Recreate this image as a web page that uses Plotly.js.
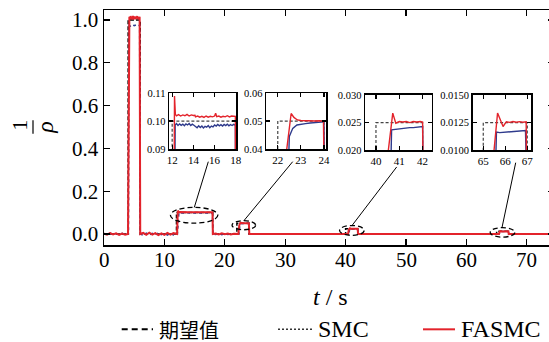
<!DOCTYPE html>
<html>
<head>
<meta charset="utf-8">
<script src="https://cdn.plot.ly/plotly-3.0.1.min.js"></script>
<style>html,body{margin:0;padding:0;overflow:hidden;background:#fff;}</style>
</head>
<body>
<div id="chart" style="width:554px;height:342px;"></div>
<script>
// ---------- data ----------
const seriesNames = ["期望值", "SMC", "FASMC"];

// desired value (期望值)
const tRef = [0, 4, 4, 6, 6, 12, 12, 18, 18, 22, 22, 24, 24, 40, 40, 42, 42, 65, 65, 67, 67, 75];
const yRef = [0, 0, 1, 1, 0, 0, 0.1, 0.1, 0, 0, 0.05, 0.05, 0, 0, 0.025, 0.025, 0, 0, 0.0125, 0.0125, 0, 0];

// SMC
const tSMC = [0, 0.5, 1.0, 1.5, 2.0, 2.5, 3.0, 3.5, 4.05,
  4.15, 4.4, 4.7, 5.0, 5.3, 5.6, 5.9, 5.98,
  6.5, 7.0, 7.5, 8.0, 8.5, 9.0, 9.5, 10.0, 10.5, 11.0, 11.5, 12.15,
  12.28, 12.4, 12.55, 12.7, 12.85, 13.0, 13.15, 13.3, 13.45, 13.6, 13.75, 13.9, 14.05, 14.2, 14.35, 14.5, 14.65, 14.8, 14.95, 15.1,
  15.25, 15.4, 15.55, 15.7, 15.85, 16.0, 16.15, 16.3, 16.45, 16.6, 16.75, 16.9, 17.05, 17.2, 17.35, 17.5, 17.65, 17.8, 17.96, 18.03,
  18.5, 19.0, 19.5, 20.0, 20.5, 21.0, 21.5, 22.35,
  22.5, 22.65, 22.83, 23.0, 23.2, 23.4, 23.6, 23.8, 24.0, 24.07,
  40.55, 40.67, 40.85, 41.0, 41.15, 41.3, 41.45, 41.6, 41.75, 41.9, 42.0, 42.06,
  65.45, 65.6, 65.75, 65.9, 66.05, 66.2, 66.35, 66.5, 66.65, 66.8, 66.92, 67.05, 75];
const ySMC = [0.003, -0.002, 0.004, -0.003, 0.002, -0.004, 0.003, -0.002, 0.0,
  0.975, 0.971, 0.978, 0.973, 0.977, 0.972, 0.976, 0.0,
  -0.006, 0.004, -0.005, 0.003, -0.004, 0.005, -0.003, 0.004, -0.005, 0.003, -0.004, 0.0,
  0.0986, 0.0991, 0.0984, 0.0990, 0.0985, 0.0989, 0.0983, 0.0990, 0.0986, 0.0991, 0.0984, 0.0989, 0.0985, 0.0980, 0.0976, 0.0983, 0.0977, 0.0982, 0.0975, 0.0981,
  0.0978, 0.0984, 0.0976, 0.0982, 0.0979, 0.0986, 0.0982, 0.0988, 0.0983, 0.0987, 0.0982, 0.0988, 0.0984, 0.0989, 0.0983, 0.0987, 0.0984, 0.0988, 0.0985, 0.0,
  -0.002, 0.002, -0.003, 0.001, -0.002, 0.002, -0.001, 0.0,
  0.0445, 0.0474, 0.0486, 0.0489, 0.0491, 0.0493, 0.0494, 0.0496, 0.0497, 0.0,
  0.0, 0.0237, 0.0238, 0.0239, 0.0239, 0.0240, 0.0241, 0.0241, 0.0242, 0.0242, 0.0243, 0.0,
  0.0, 0.01165, 0.01160, 0.01163, 0.01166, 0.01168, 0.01170, 0.01172, 0.01175, 0.01176, 0.01178, 0.0, 0.0];

// FASMC
const tFASMC = [0, 0.5, 1.0, 1.5, 2.0, 2.5, 3.0, 3.5, 3.98,
  4.08, 4.2, 4.3, 4.4, 4.5, 4.6, 4.7, 4.8, 4.9, 5.0, 5.1, 5.2, 5.3, 5.4, 5.5, 5.6, 5.7, 5.8, 5.9,
  5.93, 5.97, 6.0,
  6.5, 7.0, 7.5, 8.0, 8.5, 9.0, 9.5, 10.0, 10.5, 11.0, 11.5, 12.1,
  12.22, 12.3, 12.4, 12.6, 12.8, 13.0, 13.2, 13.4, 13.6, 13.8, 14.0, 14.15, 14.2, 14.4, 14.6, 14.8, 15.0, 15.2, 15.4,
  15.6, 15.8, 16.0, 16.1, 16.2, 16.4, 16.6, 16.8, 17.0, 17.2, 17.4, 17.6, 17.8, 17.96, 18.02,
  18.5, 19.0, 19.5, 20.0, 20.5, 21.0, 21.5, 22.25,
  22.39, 22.58, 22.7, 22.85, 23.0, 23.2, 23.4, 23.6, 23.8, 23.98, 24.06,
  40.4, 40.53, 40.72, 40.85, 41.0, 41.15, 41.3, 41.45, 41.6, 41.75, 41.9, 42.0, 42.06,
  65.38, 65.49, 65.65, 65.9, 66.05, 66.2, 66.35, 66.5, 66.65, 66.8, 66.95, 67.01, 75];
const yFASMC = [0.002, -0.003, 0.004, -0.002, 0.003, -0.004, 0.002, -0.003, 0.0,
  1.008, 1.015, 1.004, 1.018, 1.007, 1.013, 1.002, 1.019, 1.009, 1.005, 1.016, 1.003, 1.014, 1.008, 1.018, 1.004, 1.012, 1.006, 1.015,
  0.62, 0.60, 0.0,
  0.005, -0.004, 0.006, -0.003, 0.004, -0.005, 0.003, -0.004, 0.005, -0.003, 0.004, 0.0,
  0.109, 0.1024, 0.1019, 0.1023, 0.1018, 0.1022, 0.1019, 0.1024, 0.1018, 0.1022, 0.1020, 0.1021, 0.1015, 0.1018, 0.1014, 0.1017, 0.1013, 0.1018, 0.1014,
  0.1017, 0.1015, 0.1018, 0.1028, 0.1016, 0.1018, 0.1014, 0.1017, 0.1015, 0.1019, 0.1015, 0.1018, 0.1016, 0.1017, 0.0,
  0.002, -0.002, 0.003, -0.001, 0.002, -0.002, 0.001, 0.0,
  0.04, 0.0527, 0.0513, 0.0504, 0.0502, 0.0501, 0.0502, 0.0500, 0.0501, 0.0500, 0.0,
  0.0, 0.02, 0.0267, 0.0249, 0.0252, 0.0251, 0.0252, 0.0250, 0.0252, 0.0251, 0.0252, 0.0251, 0.0,
  0.0, 0.01, 0.01336, 0.01215, 0.01258, 0.01252, 0.01260, 0.01254, 0.01259, 0.01253, 0.01257, 0.0, 0.0];

// axis ticks
const mainXTicks = [0, 10, 20, 30, 40, 50, 60, 70];
const mainYTicks = [0, 0.2, 0.4, 0.6, 0.8, 1.0];
const insetXTicks = [[12, 14, 16, 18], [22, 23, 24], [40, 41, 42], [65, 66, 67]];
const insetYTicks = [[0.09, 0.10, 0.11], [0.04, 0.05, 0.06], [0.020, 0.025, 0.030], [0.0100, 0.0125, 0.0150]];

// ---------- styling / layout ----------
const RED = '#e3232b', BLUE = '#2e3a8c', BLACK = '#000';
const SERIF = 'Liberation Serif, Times New Roman, serif';
const CJK = 'Noto Sans CJK SC, Noto Sans CJK JP, sans-serif';
const W = 554, H = 342;
const L = 104, R = 554, T = 10, B = 245.5;
const px = x => (x - L) / (R - L);
const py = y => (B - y) / (B - T);

const insetRanges = [[11.7, 18.02], [21.49, 24.09], [39.53, 42.39], [64.52, 67.17]];
const insetYRanges = [[0.09, 0.11], [0.04, 0.06], [0.020, 0.030], [0.0100, 0.0150]];
const insetFmt = ['.2f', '.2f', '.3f', '.4f'];
const insetBoxes = [[169, 236, 93.3, 149.3], [266, 326, 93.3, 149.3], [365, 431.7, 95, 150.7], [472.7, 531, 95, 150.7]];

const traces = [];
// main
traces.push({x: tRef, y: yRef, mode: 'lines', name: seriesNames[0], line: {color: BLACK, width: 1.5, dash: '4px,2px'}, showlegend: false, xaxis: 'x', yaxis: 'y'});
traces.push({x: tSMC, y: ySMC, mode: 'lines', name: seriesNames[1], line: {color: BLUE, width: 1.5, dash: 'dot'}, showlegend: false, xaxis: 'x', yaxis: 'y'});
traces.push({x: tFASMC, y: yFASMC, mode: 'lines', name: seriesNames[2], line: {color: RED, width: 2}, showlegend: false, xaxis: 'x', yaxis: 'y'});
// insets
for (let i = 0; i < 4; i++) {
  const xa = 'x' + (i + 2), ya = 'y' + (i + 2);
  traces.push({x: tRef, y: yRef, mode: 'lines', line: {color: '#444', width: 1.2, dash: '3px,2px'}, showlegend: false, xaxis: xa, yaxis: ya});
  traces.push({x: tSMC, y: ySMC, mode: 'lines', line: {color: BLUE, width: 1.4}, showlegend: false, xaxis: xa, yaxis: ya});
  traces.push({x: tFASMC, y: yFASMC, mode: 'lines', line: {color: RED, width: 1.4}, showlegend: false, xaxis: xa, yaxis: ya});
}

const layout = {
  width: W, height: H,
  margin: {l: L, r: W - R, t: T, b: H - B},
  paper_bgcolor: '#fff', plot_bgcolor: 'rgba(0,0,0,0)',
  font: {family: SERIF, color: BLACK},
  showlegend: false,
  xaxis: {range: [0, 74.5], tickvals: mainXTicks, ticks: 'inside', ticklen: 6, tickwidth: 1.3, tickcolor: BLACK,
    showline: true, linecolor: BLACK, linewidth: 1.5, mirror: 'ticks', showgrid: false, zeroline: false,
    showticklabels: false},
  yaxis: {range: [-0.0513, 1.0466], tickvals: mainYTicks, tickformat: '.1f', ticks: 'inside', ticklen: 6, tickwidth: 1.3, tickcolor: BLACK,
    showline: true, linecolor: BLACK, linewidth: 1.5, mirror: 'ticks', showgrid: false, zeroline: false,
    tickfont: {family: SERIF, size: 21, color: BLACK}},
  shapes: [], annotations: []
};

// main x tick labels, placed close under the axis as in the reference
mainXTicks.forEach(v => layout.annotations.push({xref: 'x', yref: 'paper', x: v, y: py(261), text: String(v), showarrow: false,
  xanchor: 'center', yanchor: 'middle', font: {family: SERIF, size: 21, color: BLACK}}));

for (let i = 0; i < 4; i++) {
  const b = insetBoxes[i];
  layout['xaxis' + (i + 2)] = {domain: [px(b[0]), px(b[1])], anchor: 'y' + (i + 2), range: insetRanges[i], tickvals: insetXTicks[i],
    ticks: 'inside', ticklen: 4, tickwidth: 1.2, tickcolor: BLACK, showline: true, linecolor: BLACK, linewidth: 1.5, mirror: 'ticks',
    showgrid: false, zeroline: false, tickfont: {family: SERIF, size: 11, color: BLACK}};
  layout['yaxis' + (i + 2)] = {domain: [py(b[3]), py(b[2])], anchor: 'x' + (i + 2), range: insetYRanges[i], tickvals: insetYTicks[i],
    tickformat: insetFmt[i], ticks: 'inside', ticklen: 4, tickwidth: 1.2, tickcolor: BLACK, showline: true, linecolor: BLACK, linewidth: 1.5, mirror: 'ticks',
    showgrid: false, zeroline: false, tickfont: {family: SERIF, size: 10.5, color: BLACK}};
}

// dashed ellipses marking the zoomed regions
const ellipses = [[11.0, 18.84, 0.0508, 0.1245], [21.2, 25.1, 0.020, 0.0625], [39.0, 43.06, -0.006, 0.0396], [63.94, 68.0, -0.0145, 0.0298]];
ellipses.forEach(e => layout.shapes.push({type: 'circle', xref: 'x', yref: 'y', x0: e[0], x1: e[1], y0: e[2], y1: e[3],
  line: {color: BLACK, width: 1.3, dash: '5px,3px'}}));
// callout lines (pixel positions)
const callouts = [[208.3, 162, 194.3, 207.8], [292.7, 162, 244, 221], [396.7, 167.3, 352, 226], [515.7, 163, 502, 228]];
callouts.forEach(c => layout.shapes.push({type: 'line', xref: 'paper', yref: 'paper', x0: px(c[0]), y0: py(c[1]), x1: px(c[2]), y1: py(c[3]),
  line: {color: BLACK, width: 1}}));

// y axis title: 1/ρ (rotated fraction)
layout.annotations.push({xref: 'paper', yref: 'paper', x: px(20), y: py(126), text: '1', textangle: -90, showarrow: false,
  font: {family: SERIF, size: 22, color: BLACK}, xanchor: 'center', yanchor: 'middle'});
layout.annotations.push({xref: 'paper', yref: 'paper', x: px(45), y: py(127), text: '<i>ρ</i>', textangle: -90, showarrow: false,
  font: {family: SERIF, size: 24, color: BLACK}, xanchor: 'center', yanchor: 'middle'});
layout.shapes.push({type: 'line', xref: 'paper', yref: 'paper', x0: px(33), x1: px(33), y0: py(120.5), y1: py(134), line: {color: BLACK, width: 1.2}});

// x axis title
layout.annotations.push({xref: 'paper', yref: 'paper', x: px(330), y: py(298), text: '<i>t</i> / s', showarrow: false,
  font: {family: SERIF, size: 24, color: BLACK}, xanchor: 'center', yanchor: 'middle'});

// legend (drawn manually)
const legY = 330;
const legItems = [
  {x0: 121.7, x1: 153, tx: 157, color: BLACK, dash: '6px,4px', width: 2, font: CJK, size: 20},
  {x0: 278, x1: 313, tx: 316, color: '#333', dash: '2px,2px', width: 1.5, font: SERIF, size: 24},
  {x0: 423, x1: 455, tx: 459, color: RED, dash: 'solid', width: 2, font: SERIF, size: 24}
];
legItems.forEach((it, i) => {
  layout.shapes.push({type: 'line', xref: 'paper', yref: 'paper', x0: px(it.x0), x1: px(it.x1), y0: py(legY), y1: py(legY),
    line: {color: it.color, width: it.width, dash: it.dash}});
  layout.annotations.push({xref: 'paper', yref: 'paper', x: px(it.tx), y: py(legY), text: seriesNames[i], showarrow: false,
    xanchor: 'left', yanchor: 'middle', align: 'left', font: {family: it.font, size: it.size, color: BLACK}});
});

Plotly.newPlot('chart', traces, layout, {staticPlot: true, displayModeBar: false});
</script>
</body>
</html>
